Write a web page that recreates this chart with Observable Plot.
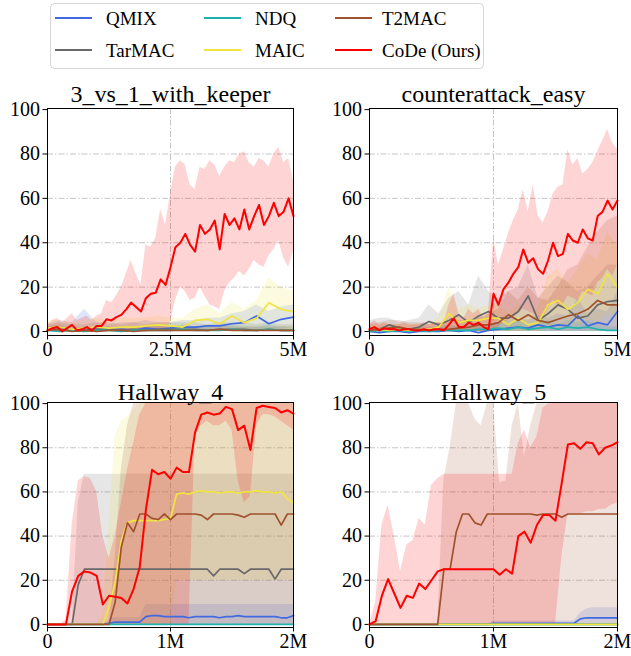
<!DOCTYPE html>
<html><head><meta charset="utf-8">
<script src="https://cdn.jsdelivr.net/npm/d3@7"></script>
<script src="https://cdn.jsdelivr.net/npm/@observablehq/plot@0.6"></script>
<style>
body{margin:0;background:#fff;}
#root{width:631px;height:656px;background:#fff;}
.row{display:flex;flex-direction:row;}
.row svg{flex:none;overflow:visible;max-width:none;}
#legend{display:block;}
</style></head><body><div id="root"></div>
<script>
const NAMES = ["QMIX","TarMAC","NDQ","MAIC","T2MAC","CoDe (Ours)"];
const COLORS = ["#4169e1","#696969","#20b2aa","#f0e442","#a0522d","#ff0000"];
const RED = "CoDe (Ours)";
const TITLES = ["3_vs_1_with_keeper","counterattack_easy","Hallway_4","Hallway_5"];
const XTICKS_TOP = [0, 2500000, 5000000];
const XTICKS_BOT = [0, 1000000, 2000000];
const YTICKS = [0,20,40,60,80,100];

// sampling grids (millions of steps)
const G01 = [0,0.1,0.2,0.3,0.4,0.5,0.6,0.7,0.8,0.9,1,1.1,1.2,1.3,1.4,1.5,1.6,1.7,1.8,1.9,2,2.1,2.2,2.3,2.4,2.5,2.6,2.7,2.8,2.9,3,3.1,3.2,3.3,3.4,3.5,3.6,3.7,3.8,3.9,4,4.1,4.2,4.3,4.4,4.5,4.6,4.7,4.8,4.9,5];
const G02 = [0,0.2,0.4,0.6,0.8,1,1.2,1.4,1.6,1.8,2,2.2,2.4,2.6,2.8,3,3.2,3.4,3.6,3.8,4,4.2,4.4,4.6,4.8,5];
const G025 = [0,0.25,0.5,0.75,1,1.25,1.5,1.75,2,2.25,2.5,2.75,3,3.25,3.5,3.75,4,4.25,4.5,4.75,5];
const G005 = [0,0.05,0.1,0.15,0.2,0.25,0.3,0.35,0.4,0.45,0.5,0.55,0.6,0.65,0.7,0.75,0.8,0.85,0.9,0.95,1,1.05,1.1,1.15,1.2,1.25,1.3,1.35,1.4,1.45,1.5,1.55,1.6,1.65,1.7,1.75,1.8,1.85,1.9,1.95,2];
const Z21 = [0,0,0,0,0,0,0,0,0,0,0,0,0,0,0,0,0,0,0,0,0];
const Z26 = [0,0,0,0,0,0,0,0,0,0,0,0,0,0,0,0,0,0,0,0,0,0,0,0,0,0];
const Z41 = [0,0,0,0,0,0,0,0,0,0,0,0,0,0,0,0,0,0,0,0,0,0,0,0,0,0,0,0,0,0,0,0,0,0,0,0,0,0,0,0,0];

// ---- panel 1: 3_vs_1_with_keeper ----
const p1_code = [0.5,1.5,2,0,1.5,3,0.5,1,2,0.5, 2.5,2.5,5.5,5,6.5,7.5,10,13,11,9, 15,17,17.5,23.5,21,29,38,40,44,39, 36,48,44,46,50,37,53,48,51,46, 55,46,52,57,48,52,58,52,54,60, 52];
const p1_code_hi = [3,5,6,4,6,8,5,6,7,5, 7,8,14,13,16,20,26,32,26,21, 39,38,42,55,48,62,74,77,75,66, 64,74,73,77,75,70,74,77,76,80, 81,76,74,78,77,74,80,83,76,78, 68];
const p1_code_lo = [0,0,0,0,0,0,0,0,0,0, 0,0,0,0,0,0,0,0,0,0, 0,0,0,0,0,4,14,20,18,14, 15,20,16,12,11,10,18,22,24,27, 25,28,32,30,29,34,37,41,33,29, 36];
const p1_qmix = [0.5,2,0.5,1,1.5,1,1,0.5,1.5,1, 1.5,2,2,2.5,2.5,3.5,4,7,3.5,5.5, 6.5];
const p1_qmix_hi = [3,5,4,10,4,3,4,4,5,4, 4,5,5,6,6,8,9,12,9,11, 12];
const p1_qmix_lo = [0,0,0,0,0,0,0,0,0,0, 0,0,0,0,0,0,0,1,0,1, 2];
const p1_tarmac = [0.5,1,0.5,0.5,1,1,0.5,1,0.5,1, 1,1,1,0.5,1,1,1,0.5,1,0.5, 0.5];
const p1_tarmac_hi = [3,4,3,3,4,4,3,4,3,4, 4,4,4,3,4,4,4,3,4,3, 3];
const p1_ndq = [0.5,0,0.5,0,0.5,0.5,0,0.5,0.5,0.5, 0.5,1,0.5,0.5,0.5,1,0.5,0.5,1,0.5, 0.5];
const p1_ndq_hi = [2,1,2,1,2,2,1,2,2,2, 2,3,2,2,2,3,2,2,3,2, 2];
const p1_maic = [1.5,2,1,1.5,2,1.5,2,2,2.5,3, 2.5,2,5,5.5,3.5,7,4,6,13,10, 9];
const p1_maic_hi = [5,5,4,5,6,5,6,6,6,7, 6,6,10,12,8,13,10,14,24,20, 18];
const p1_t2mac = [0.5,1,0,0.5,0,0.5,0.5,0,0.5,0.5, 0.5,0.5,0.5,0.5,1,0.5,0.5,0.5,0.5,0.5, 0.5];
const p1_t2mac_hi = [2,3,1,2,1,2,2,1,2,2, 2,2,2,2,3,2,2,2,2,2, 2];

// ---- panel 2: counterattack_easy ----
const p2_code = [1,2,0.5,1.5,1,1,0.5,1,1,0.5, 0.5,1,0.5,1,1,0.5,3,6,2,2, 4,3,4,2,1,17,12,19,22,26, 29,37,31,33,28,26,32,40,34,35, 44,41,40,46,42,41,52,54,59,55, 59];
const p2_code_hi = [3,5,3,4,3,3,3,4,3,3, 3,4,3,4,4,3,12,17,8,6, 10,8,10,6,8,42,30,37,44,50, 55,64,54,66,52,49,54,62,65,66, 82,75,78,71,73,76,81,86,91,85, 82];
const p2_code_lo = [0,0,0,0,0,0,0,0,0,0, 0,0,0,0,0,0,0,0,0,0, 0,0,0,0,0,0,2,4,5,6, 8,10,9,8,6,6,10,14,12,12, 16,15,14,18,17,16,22,24,28,25, 30];
const p2_tarmac = [0.5,1,3,1.5,1,2,4.5,3,5,7.5, 4,7,9,6,6,9,16,5,8,12, 10,6,7,12,13.5,14];
const p2_tarmac_hi = [5,6,6,4,5,6,12,8,15,18, 12,25,18,15,18,20,30,15,20,25, 22,18,20,25,30,30];
const p2_maic = [1,1,0.5,1,0.5,1,1,2,8,4, 5,5,6,6,3,6,3,4,12,14, 10,13,19,17,26,20];
const p2_maic_hi = [3,3,3,3,3,3,4,6,20,10, 12,10,12,12,8,12,8,10,25,28, 22,28,35,32,45,38];
const p2_maic_lo = [0,0,0,0,0,0,0,0,0,0, 0,0,0,0,0,0,0,0,2,3, 2,3,5,4,8,6];
const p2_t2mac = [0.5,1,1.5,2,1,1,0.5,1,1,1.5, 2,3,3,4,7.5,5,7.5,5,4,5.5, 7,8,10,14,12,12];
const p2_t2mac_hi = [3,4,5,5,4,4,3,4,4,5, 5,6,8,10,18,14,20,15,14,20, 28,30,38,45,50,52];
const p2_qmix = [0,-0.5,0,0,-0.5,0,0,0,0.5,0, 0.5,-0.5,0.5,1,1.5,2,1.5,3,2,3, 2.5,7,2.5,4,3,9];
const p2_qmix_hi = [2,1,2,2,1,2,2,2,3,2, 3,2,3,4,5,6,5,7,6,8, 7,15,8,10,9,18];
const p2_ndq = [0,0.5,0,0.5,0,0.5,0,0.5,0.5,0.5, 0.5,1,1,1.5,1,2,1,1.5,2,1, 2,1.5,2,1,0.5,0.5];
const p2_ndq_hi = [1,2,1,2,1,2,1,2,2,2, 2,3,3,4,3,5,3,4,5,3, 5,4,5,3,2,2];

// ---- panel 3: Hallway_4 ----
const p3_code = [0,0,0,0,15,22,24,23.5,22,9, 13,12.5,12,9.5,16,26,52,70,68,69, 66,71,69,69,87,95,96,95,95.5,98.5, 97.5,88,90,79,98,99,98.5,98,96,97, 95.5];
const p3_code_hi = [0,0,0,2,45,65,67,66,60,40, 30,40,55,70,82,95,100,100,100,100, 100,100,100,100,100,100,100,100,100,100, 100,100,100,100,100,100,100,100,100,100, 100];
const p3_code_lo = [0,0,0,0,0,0,0,0,0,0, 0,0,0,0,0,0,0,0,0,0, 0,0,0,0,85,90,92,90,90,92, 88,65,55,58,90,95,95,94,92,90, 88];
const p3_maic = [0,0,0,0,0,0,0,0,0,0, 8,19,38,46,47,47,47,47,47,47.5, 48,59,59.5,59,60,60.5,60,60,59.5,60, 60,59.5,60,60,60.5,60,60,59.5,60,57, 55];
const p3_maic_hi = [0,0,0,0,0,0,0,0,0,5, 45,85,92,94,97,100,100,100,100,100, 100,100,100,100,100,100,100,100,100,100, 100,100,100,100,100,100,100,100,100,100, 100];
const p3_maic_lo = [0,0,0,0,0,0,0,0,0,0, 0,0,0,0,0,0,0,0,0,0, 0,20,20,20,20,20,20,20,20,20, 20,20,20,20,20,20,20,20,20,20, 20];
const p3_t2mac = [0,0,0,0,0,0,0,0,0,0, 0,10,35,46,42,50,50,48,47.5,50, 47.5,50,50,50,50,49.5,47.5,50,50,50, 50,49.5,48.5,50,50,50,50,50,45,50, 50];
const p3_t2mac_hi = [0,0,0,0,0,0,0,0,0,0, 0,30,70,90,100,100,100,100,100,100, 100,100,100,100,100,100,100,100,100,100, 100,100,100,100,100,100,100,100,100,100, 100];
const p3_tarmac = [0,0,0,0,0,18,25,25,25,25, 25,25,25,25,25,25,25,25,25,25, 25,25,25,25,25,25,25,22,25,25, 25,25,23,25,25,25,25,20.5,25,25, 25];
const p3_tarmac_hi = [0,0,0,0,0,55,68,68,68,68, 68,68,68,68,68,68,68,68,68,68, 68,68,68,68,68,68,68,68,68,68, 68,68,68,68,68,68,68,68,68,68, 68];
const p3_qmix = [0,0,0,0,0,0,0,0,0,0, 0.5,1,1,1,1,1,3.5,4,4,3.5, 3.5,3.5,3.5,3,3.5,3.5,3.5,3.5,3,3.5, 3.5,4,3.5,3.5,3.5,3.5,3.5,3.5,3,3, 4];
const p3_qmix_hi = [0,0,0,0,0,0,0,0,0,0, 2,3,3,3,3,3,9,9,9,9, 9,9,9,9,9,9,9,9,9,9, 9,9,9,9,9,9,9,9,9,9, 9];

// ---- panel 4: Hallway_5 ----
const p4_code = [0,1.5,13,20.5,14,7.5,13,12,18.5,16, 20,24,25,25,25,25,25,25,25,25, 25,22.5,25,23,40,42,37,45,49.5,49.5, 47,64,81.5,82,79.5,82.5,82,77,80,81, 82.5];
const p4_code_hi = [0,10,45,54,40,24,36,38,48,45, 63,66,68,68,68,68,68,68,68,68, 68,68,68,68,82,88,80,85,98,100, 100,100,100,100,100,100,100,100,100,100, 100];
const p4_code_lo = [0,0,0,0,0,0,0,0,0,0, 0,0,0,0,0,0,0,0,0,0, 0,0,0,0,0,0,0,0,0,0, 0,30,50,50,50,51,51,52,52,54, 55];
const p4_t2mac = [0,0,0,0,0,0,0,0,0,0, 0,0,25,25,42,50,50,46,45,50, 50,50,50,50,50,50,50,49.5,50,50, 50,48.5,50,50,50,50,50,50,50,50, 50];
const p4_t2mac_hi = [0,0,0,0,0,0,0,0,0,0, 0,0,66,80,100,100,100,93,90,100, 100,64,65,90,100,76,90,100,100,100, 100,100,100,100,100,100,100,100,100,100, 100];
const p4_qmix = [0,0,0,0,0,0,0,0,0,0, 0,0,0,0,0,0,0,0,0,0, 0.5,0.5,0.5,0.5,0.5,0.5,0.5,0.5,0.5,0.5, 0.5,0.5,0.5,0.5,2.5,3,3,3,3,3, 3];
const p4_qmix_hi = [0,0,0,0,0,0,0,0,0,0, 0,0,0,0,0,0,0,0,0,0, 1.5,1.5,1.5,1.5,1.5,1.5,1.5,1.5,1.5,1.5, 1.5,1.5,1.5,1.5,5,7,7.5,7.5,7.5,7.5, 7.5];

const FONT = "Liberation Serif";
const root = document.getElementById("root");

// ---- legend (svg, font set as a plain attribute) ----
(function legend(){
  const svg = d3.create("svg").attr("id","legend").attr("width", 631).attr("height", 70);
  svg.append("rect").attr("x",50.5).attr("y",3.5).attr("width",433).attr("height",65).attr("rx",4)
    .attr("fill","#fff").attr("stroke","#d6d6d6").attr("stroke-width",1);
  const cols = [[55,106],[204,255],[335,382]];
  const rows = [18,50];
  NAMES.forEach((n,i)=>{
    const c = cols[Math.floor(i/2)], r = rows[i%2];
    svg.append("line").attr("x1",c[0]).attr("x2",c[0]+37).attr("y1",r).attr("y2",r)
      .attr("stroke",COLORS[i]).attr("stroke-width",2);
    svg.append("text").attr("x",c[1]).attr("y",r+7).text(n)
      .attr("font-family",FONT).attr("font-size",19).attr("fill","#000");
  });
  root.appendChild(svg.node());
})();

function panel(o){
  const lines = [], bands = [];
  for (const [name, grid, y, lo, hi] of o.series) {
    grid.forEach((t,i)=>{
      lines.push({series:name, x:t*1e6, y:y[i]});
      if (hi) bands.push({series:name, x:t*1e6, lo:lo[i], hi:hi[i]});
    });
  }
  const fmt = d => d === 0 ? "0" : (d/1e6) + "M";
  const grid = {stroke:"#b8b8b8", strokeWidth:0.8, strokeDasharray:"6,2,1.5,2"};
  const svg = Plot.plot({
    width:o.w, height:o.h, marginLeft:o.ml, marginRight:o.mr, marginTop:o.mt, marginBottom:o.mb,
    x:{domain:[0,o.xmax], ticks:o.xticks, tickFormat:fmt, tickSize:4.5, tickPadding:2, label:null},
    y:{domain:o.ydom, ticks:YTICKS, tickSize:4.5, tickPadding:3, label:null},
    color:{domain:NAMES, range:COLORS},
    marks:[
      Plot.ruleY([20,40,60,80], grid),
      Plot.ruleX([o.xticks[1]], grid),
      Plot.areaY(bands, {x:"x", y1:"lo", y2:"hi", z:"series", fill:"series", fillOpacity:0.17}),
      Plot.lineY(lines.filter(d=>d.series!==RED), {x:"x", y:"y", z:"series", stroke:"series", strokeWidth:1.7}),
      Plot.lineY(lines.filter(d=>d.series===RED), {x:"x", y:"y", z:"series", stroke:"series", strokeWidth:2}),
      Plot.frame({stroke:"#000", strokeWidth:1}),
      Plot.text([o.title], {frameAnchor:"top", lineAnchor:"bottom", dy:o.tdy, fontSize:24, text:d=>d})
    ]
  });
  // font as plain presentation attributes (no quoted inline style)
  svg.querySelectorAll("[font-family]").forEach(e => e.removeAttribute("font-family"));
  svg.setAttribute("font-family", FONT);
  svg.setAttribute("font-size", "20");
  svg.querySelectorAll("text").forEach(t => t.setAttribute("font-family", FONT));
  return svg;
}

function row(a, b){
  const div = document.createElement("div");
  div.className = "row";
  div.appendChild(a); div.appendChild(b);
  root.appendChild(div);
}

row(
  panel({title:TITLES[0], w:315, h:290, ml:47, mr:22, mt:38, mb:25, ydom:[-1.8,100.5], tdy:-7,
    xmax:5000000, xticks:XTICKS_TOP, series:[
    ["QMIX", G025, p1_qmix, p1_qmix_lo, p1_qmix_hi],
    ["TarMAC", G025, p1_tarmac, Z21, p1_tarmac_hi],
    ["NDQ", G025, p1_ndq, Z21, p1_ndq_hi],
    ["MAIC", G025, p1_maic, Z21, p1_maic_hi],
    ["T2MAC", G025, p1_t2mac, Z21, p1_t2mac_hi],
    [RED, G01, p1_code, p1_code_lo, p1_code_hi]]}),
  panel({title:TITLES[1], w:316, h:290, ml:54, mr:14, mt:38, mb:25, ydom:[-1.8,100.5], tdy:-7,
    xmax:5000000, xticks:XTICKS_TOP, series:[
    ["QMIX", G02, p2_qmix, Z26, p2_qmix_hi],
    ["TarMAC", G02, p2_tarmac, Z26, p2_tarmac_hi],
    ["NDQ", G02, p2_ndq, Z26, p2_ndq_hi],
    ["MAIC", G02, p2_maic, p2_maic_lo, p2_maic_hi],
    ["T2MAC", G02, p2_t2mac, Z26, p2_t2mac_hi],
    [RED, G01, p2_code, p2_code_lo, p2_code_hi]]})
);

row(
  panel({title:TITLES[2], w:315, h:296, ml:47, mr:22, mt:42, mb:29, ydom:[-1.4,100.5], tdy:-3,
    xmax:2000000, xticks:XTICKS_BOT, series:[
    ["QMIX", G005, p3_qmix, Z41, p3_qmix_hi],
    ["TarMAC", G005, p3_tarmac, Z41, p3_tarmac_hi],
    ["NDQ", G005, Z41, null, null],
    ["MAIC", G005, p3_maic, p3_maic_lo, p3_maic_hi],
    ["T2MAC", G005, p3_t2mac, Z41, p3_t2mac_hi],
    [RED, G005, p3_code, p3_code_lo, p3_code_hi]]}),
  panel({title:TITLES[3], w:316, h:296, ml:54, mr:14, mt:42, mb:29, ydom:[-1.4,100.5], tdy:-3,
    xmax:2000000, xticks:XTICKS_BOT, series:[
    ["QMIX", G005, p4_qmix, Z41, p4_qmix_hi],
    ["TarMAC", G005, Z41, null, null],
    ["NDQ", G005, Z41, null, null],
    ["MAIC", G005, Z41, null, null],
    ["T2MAC", G005, p4_t2mac, Z41, p4_t2mac_hi],
    [RED, G005, p4_code, p4_code_lo, p4_code_hi]]})
);
</script></body></html>
